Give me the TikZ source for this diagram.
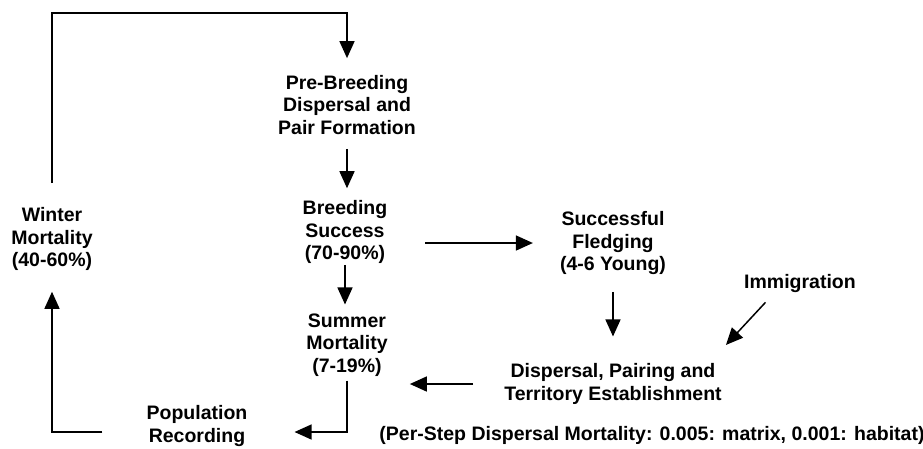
\documentclass[tikz,border=0pt]{standalone}
\usepackage{fontspec}
\setmainfont{Liberation Sans}
\usetikzlibrary{arrows.meta,calc}
\begin{document}
\begin{tikzpicture}[x=1pt, y=-1pt,
  txt/.style={align=center, inner sep=0pt, font=\bfseries\fontsize{19.5}{22.5}\selectfont},
  flow/.style={draw=black, line width=1.5pt, -{Triangle[length=17pt, width=15pt]}}]
\useasboundingbox (0, 0) rectangle (923, 448);
\node [txt] (pre)    at (347, 105) {Pre-Breeding\\Dispersal and\\Pair Formation};
\node [txt] (breed)  at (345, 232) {Breeding\\Success\\(70-90\%)};
\node [txt] (summer) at (347, 345) {Summer\\Mortality\\(7-19\%)};
\node [txt] (popul)  at (197, 426) {Population\\Recording};
\node [txt] (winter) at (52, 239)  {Winter\\Mortality\\(40-60\%)};
\node [txt] (fledge) at (613, 243) {Successful\\Fledging\\(4-6 Young)};
\node [txt] (immig)  at (800, 283) {Immigration};
\node [txt] (disp)   at (613, 384) {Dispersal, Pairing and\\Territory Establishment};
\node [txt] (note)   at (652, 435) {(Per-Step Dispersal Mortality: 0.005: matrix, 0.001: habitat)};
\coordinate (loop) at (200, 13);

\draw [flow, shorten <=24pt, shorten >=17pt] (winter.north) |- (loop) -| (pre.north);
\draw [flow, shorten <=14pt, shorten >=12pt] (pre.south) -- (pre.south |- breed.north);
\draw [flow, shorten <=1pt, shorten >=9pt]   (breed.south) -- (breed.south |- summer.north);
\draw [flow, shorten <=4pt, shorten >=47pt]  (summer.south) |- ($(popul.east)+(0, 6)$);
\draw [flow, shorten <=44pt, shorten >=21pt] ($(popul.west)+(0, 6)$) -| (winter.south);
\draw [flow, shorten <=38pt, shorten >=27pt] (breed.east |- fledge.west) -- (fledge.west);
\draw [flow, shorten <=17pt, shorten >=27pt] (fledge.south) -- (fledge.south |- disp.north);
\draw [flow] ($(immig.south west)+(21.5, 10)$) -- ($(disp.north east)+(4, -18.5)$);
\draw [flow, shorten <=31pt, shorten >=22pt] (disp.west) -- (summer.east |- disp.west);
\end{tikzpicture}
\end{document}
